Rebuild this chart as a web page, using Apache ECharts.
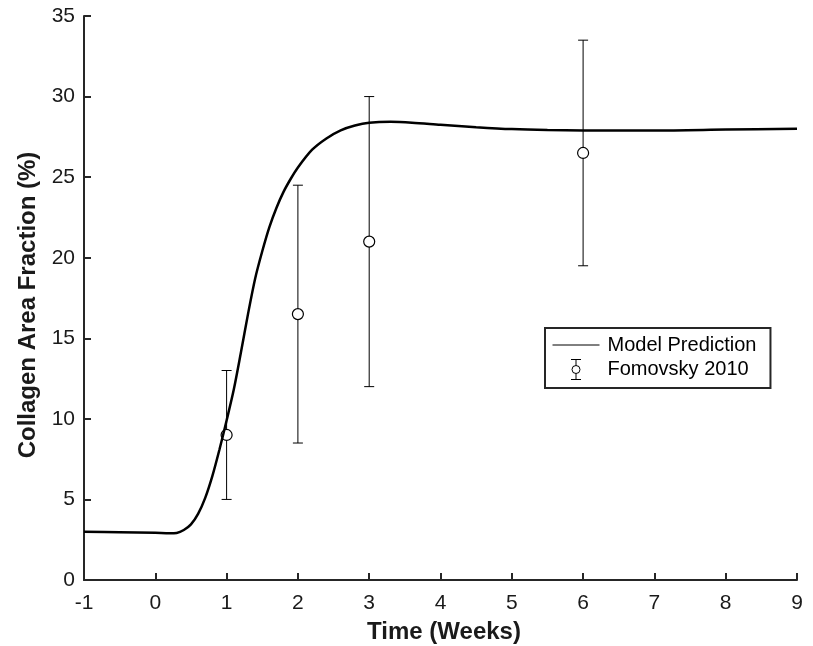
<!DOCTYPE html>
<html>
<head>
<meta charset="utf-8">
<script src="https://cdn.jsdelivr.net/npm/echarts@6/dist/echarts.min.js"></script>
<style>
  html, body { margin: 0; padding: 0; background: #fff; }
  #chart { width: 813px; height: 646px; }
</style>
</head>
<body>
<div id="chart"></div>
<script>
// model curve
var modelWeeks = [-1, -0.5, 0, 0.2, 0.3, 0.4, 0.5, 0.6, 0.7, 0.8, 0.9, 1.0, 1.1, 1.2, 1.3, 1.4, 1.5, 1.6, 1.7, 1.8, 1.9, 2.0, 2.2, 2.4, 2.6, 2.8, 3.0, 3.3, 3.6, 4.0, 4.5, 5.0, 5.5, 6.0, 7.0, 8.0, 9.0];
var modelValues = [3.0, 2.97, 2.93, 2.9, 2.92, 3.1, 3.45, 4.1, 5.1, 6.45, 8.1, 9.9, 11.8, 14.1, 16.5, 18.7, 20.4, 21.9, 23.1, 24.1, 24.9, 25.6, 26.7, 27.4, 27.9, 28.2, 28.37, 28.43, 28.38, 28.25, 28.1, 27.98, 27.92, 27.9, 27.9, 27.95, 28.0];

// Fomovsky 2010 measurements
var expWeeks = [1, 2, 3, 6];
var expMean = [9, 16.5, 21, 26.5];
var expLow = [5, 8.5, 12, 19.5];
var expHigh = [13, 24.5, 30, 33.5];

var xTicks = { min: -1, max: 9, step: 1 };
var yTicks = { min: 0, max: 35, step: 5 };

var font = 'Liberation Sans, Arial, sans-serif';
var axisColor = '#262626';
var labelColor = '#1a1a1a';

var modelData = modelWeeks.map(function (t, i) { return [t, modelValues[i]]; });
var expData = expWeeks.map(function (t, i) { return [t, expMean[i], expLow[i], expHigh[i]]; });

var chart = echarts.init(document.getElementById('chart'), null, { renderer: 'canvas' });

// vertical bar + caps + open circle for each measurement
function renderErrorBar(params, api) {
    var mid = api.coord([api.value(0), api.value(1)]);
    var lo = api.coord([api.value(0), api.value(2)]);
    var hi = api.coord([api.value(0), api.value(3)]);
    var cap = 5;
    var st = { stroke: '#000', lineWidth: 1, fill: null };
    return {
        type: 'group',
        children: [
            { type: 'line', shape: { x1: lo[0], y1: lo[1], x2: hi[0], y2: hi[1] }, style: st },
            { type: 'line', shape: { x1: lo[0] - cap, y1: lo[1], x2: lo[0] + cap, y2: lo[1] }, style: st },
            { type: 'line', shape: { x1: hi[0] - cap, y1: hi[1], x2: hi[0] + cap, y2: hi[1] }, style: st },
            { type: 'circle', shape: { cx: mid[0], cy: mid[1], r: 5.5 }, style: { stroke: '#000', lineWidth: 1.2, fill: '#fff' } }
        ]
    };
}

var errIcon = 'path://M0,0 L10,0 M5,0 L5,6 M5,14 L5,20 M0,20 L10,20 M5,6 A4,4 0 1,1 5,14 A4,4 0 1,1 5,6';

chart.setOption({
    animation: false,
    backgroundColor: '#fff',
    grid: { left: 84, right: 16, top: 16, bottom: 66, outerBoundsMode: 'none' },
    legend: {
        orient: 'vertical',
        left: 545,
        top: 328,
        itemWidth: 47,
        itemHeight: 20,
        itemGap: 2,
        padding: [7, 14, 6, 7],
        borderColor: axisColor,
        borderWidth: 2,
        borderRadius: 0,
        selectedMode: false,
        textStyle: { fontFamily: font, fontSize: 20, color: '#000', padding: [0, 0, 0, 3] },
        data: [
            { name: 'Model Prediction', lineStyle: { width: 1, color: '#000' },
              itemStyle: { color: 'rgba(0,0,0,0)', borderWidth: 0, opacity: 0 } },
            { name: 'Fomovsky 2010', icon: errIcon, symbolKeepAspect: true,
              itemStyle: { color: 'none', borderColor: '#000', borderWidth: 1 } }
        ]
    },
    xAxis: {
        type: 'value',
        min: xTicks.min, max: xTicks.max, interval: xTicks.step,
        name: 'Time (Weeks)',
        nameLocation: 'middle',
        nameGap: 40,
        nameTextStyle: { fontFamily: font, fontSize: 24, fontWeight: 'bold', color: labelColor, padding: [0, 0, 0, 7] },
        axisLine: { show: true, onZero: false, lineStyle: { color: axisColor, width: 2 } },
        axisTick: { show: true, inside: true, length: 7, lineStyle: { color: axisColor, width: 2 } },
        axisLabel: { fontFamily: font, fontSize: 21, color: labelColor, margin: 13 },
        splitLine: { show: false }
    },
    yAxis: {
        type: 'value',
        min: yTicks.min, max: yTicks.max, interval: yTicks.step,
        name: 'Collagen Area Fraction (%)',
        nameLocation: 'middle',
        nameGap: 36,
        nameRotate: 90,
        nameTextStyle: { fontFamily: font, fontSize: 24, fontWeight: 'bold', color: labelColor, padding: [0, 14, 0, 0] },
        axisLine: { show: true, onZero: false, lineStyle: { color: axisColor, width: 2 } },
        axisTick: { show: true, inside: true, length: 7, lineStyle: { color: axisColor, width: 2 } },
        axisLabel: { fontFamily: font, fontSize: 21, color: labelColor, margin: 9 },
        splitLine: { show: false }
    },
    series: [
        {
            name: 'Model Prediction',
            type: 'line',
            data: modelData,
            symbol: 'none',
            smooth: 0.3,
            lineStyle: { color: '#000', width: 2.5 },
            itemStyle: { color: '#000' },
            z: 3
        },
        {
            name: 'Fomovsky 2010',
            type: 'custom',
            data: expData,
            renderItem: renderErrorBar,
            itemStyle: { color: '#000' },
            z: 2
        }
    ]
});
</script>
</body>
</html>
